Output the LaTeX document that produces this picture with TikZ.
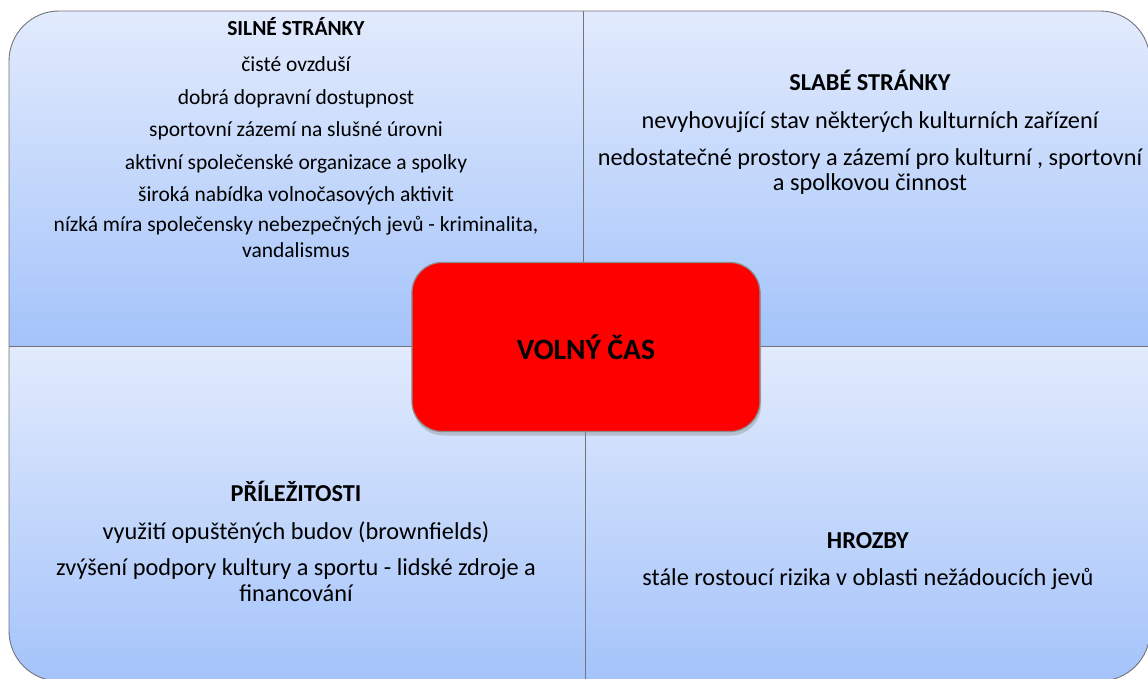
\documentclass[tikz,border=0pt]{standalone}
\usepackage{fontspec}
\setmainfont{Carlito}
\usepackage{xcolor}
\usetikzlibrary{shadows}

\definecolor{quadtop}{RGB}{226,235,253}
\definecolor{quadbottom}{RGB}{164,195,250}
\definecolor{quadline}{RGB}{115,115,120}

\newcommand{\pargap}[1]{\\[#1pt]}

\begin{document}
\begin{tikzpicture}[
			x=1pt, y=-1pt,
			quad/.style={top color=quadtop, bottom color=quadbottom},
			border/.style={draw=quadline, line width=0.9pt},
			txt/.style={align=center, inner sep=0pt, anchor=north},
			core/.style={rectangle, rounded corners=30pt, fill=red, draw=black!45, line width=1.2pt,
				minimum width=348pt, minimum height=169pt, font=\fontsize{29.5}{34}\selectfont\bfseries,
				drop shadow={shadow xshift=1pt, shadow yshift=-4pt, opacity=.35}}
			]
			\useasboundingbox (0,0) rectangle (1148,679);
			
			% ctyri kvadranty
			\begin{scope}
				\clip[rounded corners=50pt] (9,11) rectangle (1150,681);
				\shade[quad] (9,11) rectangle (584,346);
				\shade[quad] (584,11) rectangle (1150,346);
				\shade[quad] (9,346) rectangle (584,681);
				\shade[quad] (584,346) rectangle (1150,681);
			\end{scope}
			\draw[border, rounded corners=50pt] (9,11) rectangle (1150,681);
			\draw[border] (583,11) -- (583,346);
			\draw[border] (585,346) -- (585,681);
			\draw[border] (9,346) -- (1150,346);
			
			% silne stranky
			\node[txt, font=\fontsize{21.5}{26}\selectfont] (silne) at (296,17.5) {%
				\textbf{SILNÉ STRÁNKY}\pargap{10}
				čisté ovzduší\pargap{7}
				dobrá dopravní dostupnost\pargap{6}
				sportovní zázemí na slušné úrovni\pargap{7}
				aktivní společenské organizace a spolky\pargap{6}
				široká nabídka volnočasových aktivit\pargap{4}
				nízká míra společensky nebezpečných jevů - kriminalita,\\
				vandalismus};
			
			% slabe stranky
			\node[txt, font=\fontsize{24.3}{25}\selectfont] (slabe) at (870,69.5) {%
				\textbf{SLABÉ STRÁNKY}\pargap{13}
				nevyhovující stav některých kulturních zařízení\pargap{12}
				nedostatečné prostory a zázemí pro kulturní , sportovní\\
				a spolkovou činnost};
			
			% prilezitosti
			\node[txt, font=\fontsize{24.3}{26}\selectfont] (prilez) at (296,481) {%
				\textbf{PŘÍLEŽITOSTI}\pargap{12}
				využití opuštěných budov (brownfields)\pargap{10}
				zvýšení podpory kultury a sportu - lidské zdroje a\\
				financování};
			
			% hrozby
			\node[txt, font=\fontsize{24.3}{25}\selectfont] (hrozby) at (868,532) {%
				\textbf{HROZBY}\pargap{12}
				stále rostoucí rizika v oblasti nežádoucích jevů};
			
			% stred
			\node[core] (cas) at (586,347) {VOLNÝ ČAS};
			
		\end{tikzpicture}
\end{document}
